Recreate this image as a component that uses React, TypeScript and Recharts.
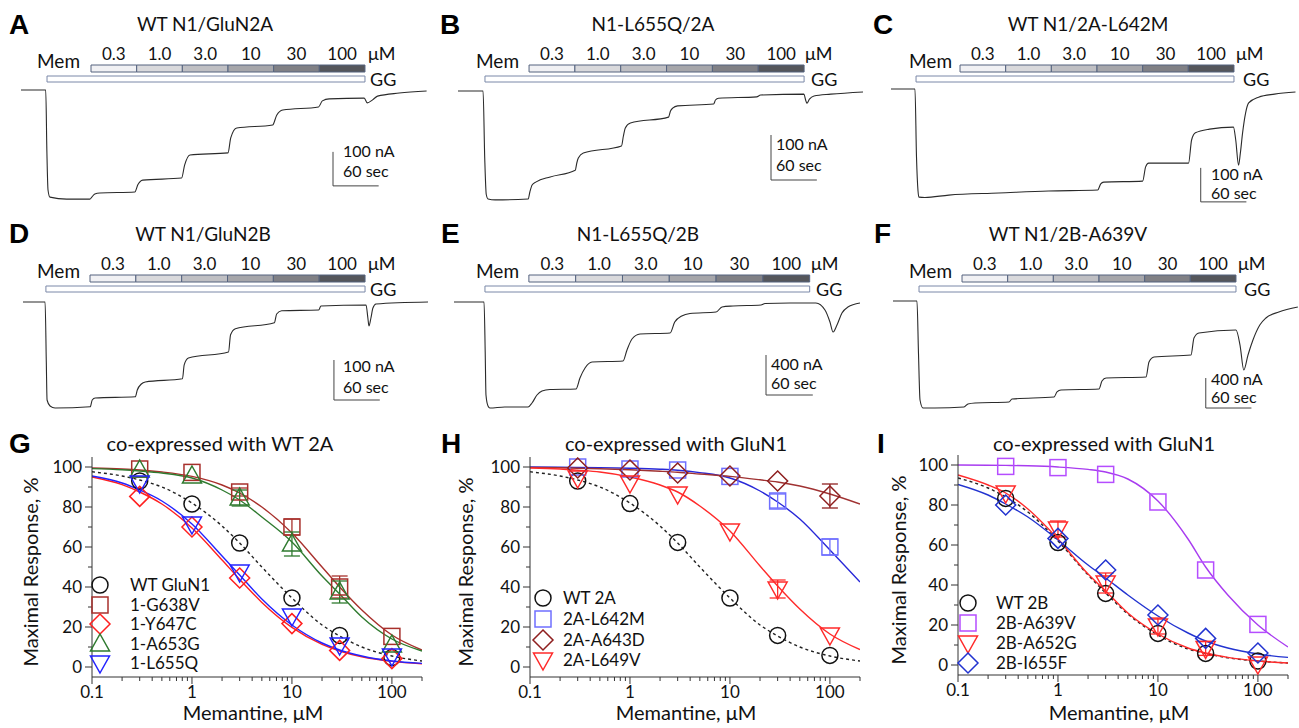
import React from 'react';
import {
  LineChart, Line, XAxis, YAxis, ReferenceArea, ReferenceLine,
  ComposedChart, Scatter, ErrorBar,
} from 'recharts';

const FONT = 'Lato, "Open Sans", "DejaVu Sans", sans-serif';
const BOLD_FONT = '"Liberation Sans", Arial, sans-serif';
const AXIS = '#333';
const TEXT = '#111';

// ---------- Recording protocol ----------
const MEM_CONC_LABELS = ['0.3', '1.0', '3.0', '10', '30', '100'];
const MEM_STEP_SEC = 60;
const CONC_FILLS = ['#f1f1f4', '#d9d9dc', '#bfbfc3', '#a6a6aa', '#808085', '#55565b'];

// ---------- Current traces [time s, current nA] ----------
const TRACE_A: [number, number][] = [
  [0, 0], [32.5, 0], [34, -180], [35.5, -294], [38, -315], [60, -321], [90.5, -321], [93, -315],
  [97, -306], [103.7, -303], [149.6, -300], [153.5, -279], [160, -265], [211, -259], [215, -221],
  [222, -191], [272, -185], [275.6, -141], [283.5, -112], [330.7, -103], [336, -74], [344, -59],
  [391, -50], [396, -32], [405, -26], [451, -24], [455, -38], [462, -29], [468.5, -18], [497, -9], [533, -3],
];
const TRACE_B: [number, number][] = [
  [0, 0], [32.8, 0], [35, -150], [37, -230], [39.4, -240], [48.6, -242], [91.9, -240], [94, -225],
  [97, -209], [102.4, -202], [120.7, -191], [153.5, -176], [155.5, -160], [157.5, -149], [164, -138],
  [214, -122], [216.5, -100], [219, -82], [225.7, -71], [275.6, -58], [278, -45], [281, -38],
  [287.4, -33], [334.6, -29], [337, -20], [341, -16], [391, -13], [396, -9], [452.8, -7], [455, -20],
  [456.7, -27], [460, -18], [466, -11], [488, -7], [531.5, -2],
];
const TRACE_C: [number, number][] = [
  [0, 0], [31.5, 0], [33.5, -200], [35.5, -300], [36.7, -318], [44.6, -319], [76, -312], [141.7, -306],
  [207, -300], [271.7, -297], [275.6, -279], [279.5, -274], [330.7, -271], [334.6, -229], [338.6, -218],
  [391, -218], [395, -150], [400, -129], [418.6, -118], [450, -112], [453, -150], [456.7, -224],
  [459, -190], [462, -129], [466, -70], [470, -41], [483, -24], [504, -15], [531.5, -9],
];
const TRACE_D: [number, number][] = [
  [0, 0], [28.9, 0], [30.5, -150], [31.5, -245], [35.4, -260], [42, -265], [88, -262], [90.6, -245],
  [94.5, -240], [147, -237], [149.6, -220], [154.9, -205], [160, -200], [208.7, -192], [211, -157],
  [216.5, -140], [269, -125], [271.7, -82], [278, -67], [329, -52], [332, -30], [338.6, -22],
  [387, -20], [390, -10], [449, -7.5], [451.4, -40], [452.8, -60], [455.4, -40], [458, -15],
  [462, -5], [531.5, 0],
];
const TRACE_E: [number, number][] = [
  [0, 0], [38.5, 0], [40, -500], [41, -930], [43.6, -1040], [46, -1060], [65, -1050], [95, -1050],
  [100, -1010], [106.4, -930], [112.8, -890], [123, -875], [156.4, -870], [161.5, -760], [168, -660],
  [177, -600], [216.7, -590], [221.8, -480], [228.2, -370], [238.5, -320], [277, -310], [283, -200],
  [292, -140], [302.6, -115], [336, -100], [343.6, -50], [357.7, -40], [393.6, -30], [398.7, -15],
  [430.8, -10], [464, -10], [475.6, -80], [482, -200], [486, -300], [491, -230], [497.4, -110],
  [505, -50], [520.5, -10],
];
const TRACE_F: [number, number][] = [
  [0, 0], [31.5, 0], [33.5, -700], [35.5, -1320], [39.4, -1427], [55, -1427], [93.3, -1413],
  [98.5, -1373], [107.8, -1360], [152.4, -1347], [156.4, -1307], [211.6, -1280], [215.5, -1213],
  [220.8, -1187], [270.7, -1173], [274.6, -1067], [280, -1027], [332.5, -1013], [336.4, -813],
  [343, -747], [391.6, -720], [395.5, -493], [402, -427], [450.7, -387], [456, -587], [461, -920],
  [466.5, -720], [473, -520], [482, -320], [490, -227], [507, -147], [532, -80],
];

// ---------- Dose-response data ----------
const DOSE_X = [0.1, 0.2, 0.3, 0.5, 1, 2, 3, 5, 10, 20, 30, 50, 100, 200];
const CONC_POINTS = [0.3, 1, 3, 10, 30, 100];
const X_TICKS = [0.1, 0.2, 0.3, 0.4, 0.5, 0.6, 0.7, 0.8, 0.9, 1, 2, 3, 4, 5, 6, 7, 8, 9, 10, 20, 30, 40, 50, 60, 70, 80, 90, 100, 200];
const X_MAJOR = [0.1, 1, 10, 100];
const Y_TICKS = [0, 10, 20, 30, 40, 50, 60, 70, 80, 90, 100];
const Y_MAJOR = [0, 20, 40, 60, 80, 100];

const G_WT_FIT = [97.6, 95.5, 93.5, 90, 82, 70.5, 62, 50, 34.5, 21, 15.5, 10, 5.5, 3];
const G_G638V_FIT = [99.5, 99, 98.5, 97.5, 95.3, 91, 87, 80, 67, 50, 40, 28.5, 16, 8.5];
const G_Y647C_FIT = [95, 91.2, 87.5, 81.5, 69.5, 53.5, 43.8, 32.3, 19.8, 11.3, 8, 5.1, 2.8, 1.6];
const G_A653G_FIT = [99.2, 98.6, 98, 97, 94.5, 88.5, 83.5, 75, 62.5, 45.5, 36.5, 25, 14, 8];
const G_L655Q_FIT = [95.5, 92, 88.5, 83, 71.5, 55.5, 46, 34, 21, 12, 8.5, 5.5, 3, 1.8];
const G_WT_PTS = [93, 81.5, 62, 34.5, 15.8, 4.7];
const G_G638V_PTS = [99, 97.3, 87.5, 70, 40, 15.3];
const G_G638V_ERR = [0, 0, 2, 4, 5.5, 0];
const G_Y647C_PTS = [85.3, 70, 44.5, 21.7, 8.3, 4.2];
const G_A653G_PTS = [98.5, 95.5, 84.5, 61.5, 37.5, 11];
const G_A653G_ERR = [0, 0, 4, 6, 5.5, 0];
const G_L655Q_PTS = [92, 71.5, 47.5, 25.5, 11, 5.5];

const H_WT_FIT = [97.6, 95.5, 93.5, 90, 82, 70.5, 62, 50, 34.5, 21, 15.5, 10, 5.5, 3];
const H_L642M_FIT = [100, 99.9, 99.8, 99.7, 99.4, 98.9, 98.4, 97.2, 94.5, 88, 82.5, 74, 58.5, 42.5];
const H_A643D_FIT = [99.8, 99.6, 99.4, 99.1, 98.6, 97.9, 97.4, 96.5, 95.3, 93.6, 92.5, 90.5, 86.5, 81.5];
const H_L649V_FIT = [99.5, 99, 98.4, 97.5, 95, 91, 87.5, 80.5, 68, 50.5, 40.5, 29, 16.5, 8.7];
const H_WT_PTS = [93, 81.7, 62.3, 34.5, 15.8, 5.8];
const H_L642M_PTS = [100, 99, 98.5, 95.3, 83, 60];
const H_L642M_ERR = [0, 0, 0, 0, 3.5, 4];
const H_A643D_PTS = [99.5, 98.5, 97, 95.5, 93, 85.5];
const H_A643D_ERR = [0, 0, 0, 0, 0, 6];
const H_L649V_PTS = [94.5, 92, 86.5, 68, 39, 16];
const H_L649V_ERR = [0, 0, 0, 0, 4.5, 0];

const I_WT_FIT = [93.5, 88.5, 84, 76.5, 62, 45, 36, 25.5, 15, 8, 5.8, 3.6, 2, 1];
const I_A639V_FIT = [100, 99.9, 99.8, 99.6, 99, 97.8, 96.5, 93, 82, 63, 49, 35, 20, 9];
const I_A652G_FIT = [95, 90, 86, 78, 63, 45.5, 37, 26, 15.5, 8.5, 6, 3.8, 2, 1];
const I_I655F_FIT = [90.3, 85, 80.5, 74, 62.5, 50, 43.5, 35, 24.5, 16, 12, 8.5, 5.5, 3.8];
const I_WT_PTS = [83.3, 61.2, 35.8, 15.8, 5.8, 2];
const I_A639V_PTS = [99.3, 98.7, 95.3, 81.5, 47.5, 20.3];
const I_A652G_PTS = [86, 68, 41, 19.5, 8.3, 0.5];
const I_A652G_ERR = [0, 4, 5, 4, 3.5, 0];
const I_I655F_PTS = [80, 63.3, 47.5, 25, 13.3, 6];

const NO_ERR = [0, 0, 0, 0, 0, 0];

// ---------- Panels ----------
type TraceP = {
  letter: string; title: string; trace: [number, number][]; ggOn: number; memOn: number;
  scaleNA: number; scaleCorner: [number, number];
  layout: { x0: number; x1: number; rowTop: number; basePx: number; pxPerSec: number; pxPerNA: number };
  text: { letter: [number, number]; title: [number, number]; mem: [number, number]; um: [number, number]; gg: [number, number]; scale: [number, number, number] };
};

const TRACE_PANELS: TraceP[] = [
  { letter: 'A', title: 'WT N1/GluN2A', trace: TRACE_A, ggOn: 34.2, memOn: 92, scaleNA: 100, scaleCorner: [410, -282],
    layout: { x0: 21, x1: 427, rowTop: 0, basePx: 90, pxPerSec: 0.761, pxPerNA: 0.34 },
    text: { letter: [9, 34], title: [205, 31], mem: [37, 68], um: [368, 60], gg: [370, 86], scale: [343, 157, 177] } },
  { letter: 'B', title: 'N1-L655Q/2A', trace: TRACE_B, ggOn: 35.3, memOn: 93, scaleNA: 100, scaleCorner: [409.7, -197.8],
    layout: { x0: 458, x1: 863, rowTop: 0, basePx: 91, pxPerSec: 0.764, pxPerNA: 0.45 },
    text: { letter: [440, 34], title: [653, 31], mem: [476, 68], um: [805, 60], gg: [811, 86], scale: [776, 150, 171] } },
  { letter: 'C', title: 'WT N1/2A-L642M', trace: TRACE_C, ggOn: 32.9, memOn: 90.7, scaleNA: 100, scaleCorner: [407, -332],
    layout: { x0: 891, x1: 1296, rowTop: 0, basePx: 89, pxPerSec: 0.761, pxPerNA: 0.34 },
    text: { letter: [873, 34], title: [1088, 31], mem: [909, 68], um: [1236, 60], gg: [1243, 86], scale: [1211, 180, 199] } },
  { letter: 'D', title: 'WT N1/GluN2B', trace: TRACE_D, ggOn: 30, memOn: 87.7, scaleNA: 100, scaleCorner: [407, -245],
    layout: { x0: 23, x1: 428, rowTop: 210, basePx: 302, pxPerSec: 0.764, pxPerNA: 0.4 },
    text: { letter: [9, 243], title: [203, 241], mem: [37, 278], um: [368, 270], gg: [370, 296], scale: [343, 372, 393] } },
  { letter: 'E', title: 'N1-L655Q/2B', trace: TRACE_E, ggOn: 39.7, memOn: 96, scaleNA: 400, scaleCorner: [400, -930],
    layout: { x0: 454, x1: 860, rowTop: 210, basePx: 302, pxPerSec: 0.78, pxPerNA: 0.1 },
    text: { letter: [441, 243], title: [638, 241], mem: [476, 278], um: [811, 270], gg: [816, 296], scale: [771, 370, 389] } },
  { letter: 'F', title: 'WT N1/2B-A639V', trace: TRACE_F, ggOn: 34.2, memOn: 90.7, scaleNA: 400, scaleCorner: [411, -1427],
    layout: { x0: 893, x1: 1298, rowTop: 210, basePx: 301, pxPerSec: 0.761, pxPerNA: 0.075 },
    text: { letter: [874, 243], title: [1068, 241], mem: [909, 278], um: [1238, 270], gg: [1244, 296], scale: [1211, 385, 403] } },
];

type Series = { name: string; marker: string; color: string; line: string; dashed?: boolean; fit: number[]; pts: number[]; err: number[] };

type DoseP = {
  letter: string; title: string; series: Series[];
  chart: { left: number; ml: number; mr: number; mt: number; mb: number };
  text: { letter: [number, number]; title: [number, number]; yTitle: [number, number]; xTitle: [number, number] };
  legend: { mx: number; tx: number; rows: number[] };
};

const DOSE_PANELS: DoseP[] = [
  { letter: 'G', title: 'co-expressed with WT 2A',
    series: [
      { name: 'WT GluN1', marker: 'circle', color: '#111', line: '#222', dashed: true, fit: G_WT_FIT, pts: G_WT_PTS, err: NO_ERR },
      { name: '1-G638V', marker: 'square', color: '#a8302c', line: '#a8302c', fit: G_G638V_FIT, pts: G_G638V_PTS, err: G_G638V_ERR },
      { name: '1-Y647C', marker: 'diamond', color: '#ff2020', line: '#ff2020', fit: G_Y647C_FIT, pts: G_Y647C_PTS, err: NO_ERR },
      { name: '1-A653G', marker: 'triUp', color: '#2f7a2f', line: '#2f7a2f', fit: G_A653G_FIT, pts: G_A653G_PTS, err: G_A653G_ERR },
      { name: '1-L655Q', marker: 'triDown', color: '#2323ff', line: '#2323ff', fit: G_L655Q_FIT, pts: G_L655Q_PTS, err: NO_ERR },
    ],
    chart: { left: 0, ml: 32, mr: 11, mt: 37, mb: 21 },
    text: { letter: [9, 453], title: [220, 451], yTitle: [30, 572], xTitle: [253, 720] },
    legend: { mx: 100, tx: 130, rows: [585, 605, 624, 644, 663] } },
  { letter: 'H', title: 'co-expressed with GluN1',
    series: [
      { name: 'WT 2A', marker: 'circle', color: '#111', line: '#222', dashed: true, fit: H_WT_FIT, pts: H_WT_PTS, err: NO_ERR },
      { name: '2A-L642M', marker: 'square', color: '#6f6fff', line: '#2828d8', fit: H_L642M_FIT, pts: H_L642M_PTS, err: H_L642M_ERR },
      { name: '2A-A643D', marker: 'diamond', color: '#8e1f1f', line: '#a03232', fit: H_A643D_FIT, pts: H_A643D_PTS, err: H_A643D_ERR },
      { name: '2A-L649V', marker: 'triDown', color: '#ff2a2a', line: '#ff2a2a', fit: H_L649V_FIT, pts: H_L649V_PTS, err: H_L649V_ERR },
    ],
    chart: { left: 433, ml: 37, mr: 6, mt: 37, mb: 21 },
    text: { letter: [441, 453], title: [676, 451], yTitle: [465, 572], xTitle: [686, 720] },
    legend: { mx: 543, tx: 563, rows: [598, 619, 640, 660] } },
  { letter: 'I', title: 'co-expressed with GluN1',
    series: [
      { name: 'WT 2B', marker: 'circle', color: '#111', line: '#222', dashed: true, fit: I_WT_FIT, pts: I_WT_PTS, err: NO_ERR },
      { name: '2B-A639V', marker: 'square', color: '#b54dff', line: '#a83cf0', fit: I_A639V_FIT, pts: I_A639V_PTS, err: NO_ERR },
      { name: '2B-A652G', marker: 'triDown', color: '#ff2a2a', line: '#ff2a2a', fit: I_A652G_FIT, pts: I_A652G_PTS, err: I_A652G_ERR },
      { name: '2B-I655F', marker: 'diamond', color: '#2233d0', line: '#2233d0', fit: I_I655F_FIT, pts: I_I655F_PTS, err: NO_ERR },
    ],
    chart: { left: 866, ml: 32, mr: 11, mt: 35, mb: 23 },
    text: { letter: [877, 453], title: [1104, 451], yTitle: [898, 570], xTitle: [1119, 720] },
    legend: { mx: 968, tx: 996, rows: [603, 623, 643, 663] } },
];

// ---------- Components ----------
function Marker({ kind, cx, cy, color }: { kind: string; cx: number; cy: number; color: string }) {
  const common = { fill: 'none', stroke: color, strokeWidth: 1.5 };
  if (cx == null || cy == null) return null;
  switch (kind) {
    case 'circle':
      return <circle cx={cx} cy={cy} r={8} {...common} />;
    case 'square':
      return <rect x={cx - 8} y={cy - 8} width={16} height={16} {...common} />;
    case 'diamond':
      return <polygon points={`${cx},${cy - 10} ${cx + 10},${cy} ${cx},${cy + 10} ${cx - 10},${cy}`} {...common} />;
    case 'triUp':
      return <polygon points={`${cx},${cy - 10} ${cx + 9.5},${cy + 7} ${cx - 9.5},${cy + 7}`} {...common} />;
    case 'triDown':
      return <polygon points={`${cx},${cy + 10} ${cx + 9.5},${cy - 7} ${cx - 9.5},${cy - 7}`} {...common} />;
    default:
      return null;
  }
}

const XTick = (props: any) => {
  const { x, y, payload } = props;
  const major = X_MAJOR.includes(payload.value);
  return (
    <g>
      <line x1={x} x2={x} y1={y} y2={y + (major ? 7 : 4)} stroke={AXIS} strokeWidth={1} />
      {major && (
        <text x={x} y={y + 21} textAnchor="middle" fontSize={17} fontFamily={FONT} fill={TEXT}>
          {String(payload.value)}
        </text>
      )}
    </g>
  );
};

const YTick = (props: any) => {
  const { x, y, payload } = props;
  const major = Y_MAJOR.includes(payload.value);
  return (
    <g>
      <line x1={x} x2={x - (major ? 7 : 4)} y1={y} y2={y} stroke={AXIS} strokeWidth={1} />
      {major && (
        <text x={x - 10} y={y + 6} textAnchor="end" fontSize={17} fontFamily={FONT} fill={TEXT}>
          {String(payload.value)}
        </text>
      )}
    </g>
  );
};

function TracePanel({ p }: { p: TraceP }) {
  const L = p.layout;
  const plotTop = L.rowTop + 36;
  const plotBottom = L.rowTop + 212;
  const width = L.x1 - L.x0;
  const height = plotBottom - plotTop;
  const toNA = (py: number) => (L.basePx - py) / L.pxPerNA;
  const data = p.trace.map(([t, i]) => ({ t, i }));
  const concTop = toNA(L.rowTop + 65);
  const concBot = toNA(L.rowTop + 72);
  const ggTop = toNA(L.rowTop + 76);
  const ggBot = toNA(L.rowTop + 82);
  const memOff = p.memOn + MEM_CONC_LABELS.length * MEM_STEP_SEC;
  const [sx, sy] = p.scaleCorner;
  return (
    <div style={{ position: 'absolute', left: L.x0, top: plotTop }}>
      <LineChart width={width} height={height} data={data} margin={{ top: 0, right: 0, bottom: 0, left: 0 }}>
        <XAxis type="number" dataKey="t" domain={[0, width / L.pxPerSec]} hide allowDataOverflow />
        <YAxis type="number" domain={[toNA(plotBottom), toNA(plotTop)]} hide allowDataOverflow />
        {MEM_CONC_LABELS.map((c, k) => (
          <ReferenceArea
            key={c}
            x1={p.memOn + k * MEM_STEP_SEC}
            x2={p.memOn + (k + 1) * MEM_STEP_SEC}
            y1={concBot}
            y2={concTop}
            fill={CONC_FILLS[k]}
            fillOpacity={1}
            stroke="#55637f"
            strokeWidth={1}
            label={{ value: c, position: 'top', offset: 5, fontSize: 17, fontFamily: FONT, fill: TEXT }}
          />
        ))}
        <ReferenceArea x1={p.ggOn} x2={memOff} y1={ggBot} y2={ggTop} fill="#ffffff" fillOpacity={1} stroke="#7a88a8" strokeWidth={1} />
        <ReferenceLine segment={[{ x: sx, y: sy + p.scaleNA }, { x: sx, y: sy }]} stroke="#444" strokeWidth={1} />
        <ReferenceLine segment={[{ x: sx, y: sy }, { x: sx + 60, y: sy }]} stroke="#444" strokeWidth={1} />
        <Line type="monotone" dataKey="i" stroke="#2a2a2a" strokeWidth={1.1} dot={false} isAnimationActive={false} />
      </LineChart>
    </div>
  );
}

function DosePanel({ d }: { d: DoseP }) {
  const c = d.chart;
  return (
    <div style={{ position: 'absolute', left: c.left, top: 420 }}>
      <ComposedChart width={433} height={308} margin={{ top: c.mt, right: c.mr, bottom: c.mb, left: c.ml }}>
        <XAxis
          type="number" dataKey="x" scale="log" domain={[0.1, 200]} ticks={X_TICKS} interval={0}
          tick={<XTick />} tickLine={false} tickSize={0} tickMargin={0}
          axisLine={{ stroke: AXIS, strokeWidth: 1 }} height={30} allowDataOverflow
        />
        <YAxis
          type="number" dataKey="y" domain={[-5, 105]} ticks={Y_TICKS} interval={0}
          tick={<YTick />} tickLine={false} tickSize={0} tickMargin={0}
          axisLine={{ stroke: AXIS, strokeWidth: 1 }} width={60} allowDataOverflow
        />
        {d.series.map((s) => (
          <Line
            key={s.name + '-fit'}
            data={DOSE_X.map((x, i) => ({ x, y: s.fit[i] }))}
            dataKey="y"
            type="monotone"
            stroke={s.line}
            strokeWidth={1.4}
            strokeDasharray={s.dashed ? '3 3' : undefined}
            dot={false}
            isAnimationActive={false}
          />
        ))}
        {d.series.map((s) => (
          <Scatter
            key={s.name}
            data={CONC_POINTS.map((x, i) => ({ x, y: s.pts[i], e: s.err[i] || undefined }))}
            dataKey="y"
            isAnimationActive={false}
            shape={(pp: any) => <Marker kind={s.marker} cx={pp.cx} cy={pp.cy} color={s.color} />}
          >
            <ErrorBar dataKey="e" direction="y" width={8} stroke={s.color} strokeWidth={1.3} />
          </Scatter>
        ))}
      </ComposedChart>
    </div>
  );
}

function Overlay() {
  const t = (x: number, y: number, s: string, size: number, anchor: 'start' | 'middle' | 'end' = 'start') => (
    <text x={x} y={y} fontSize={size} fontFamily={FONT} fill={TEXT} textAnchor={anchor}>{s}</text>
  );
  return (
    <svg width={1299} height={728} style={{ position: 'absolute', left: 0, top: 0, pointerEvents: 'none' }}>
      {TRACE_PANELS.map((p) => (
        <g key={p.letter}>
          <text x={p.text.letter[0]} y={p.text.letter[1]} fontSize={28} fontWeight={700} fontFamily={BOLD_FONT} fill="#000">{p.letter}</text>
          {t(p.text.title[0], p.text.title[1], p.title, 19, 'middle')}
          {t(p.text.mem[0], p.text.mem[1], 'Mem', 19)}
          {t(p.text.um[0], p.text.um[1], 'μM', 18)}
          {t(p.text.gg[0], p.text.gg[1], 'GG', 18)}
          {t(p.text.scale[0], p.text.scale[1], `${p.scaleNA} nA`, 16)}
          {t(p.text.scale[0], p.text.scale[2], '60 sec', 16)}
        </g>
      ))}
      {DOSE_PANELS.map((d) => (
        <g key={d.letter}>
          <text x={d.text.letter[0]} y={d.text.letter[1]} fontSize={28} fontWeight={700} fontFamily={BOLD_FONT} fill="#000">{d.letter}</text>
          {t(d.text.title[0], d.text.title[1], d.title, 20, 'middle')}
          {t(d.text.xTitle[0], d.text.xTitle[1], 'Memantine, μM', 20, 'middle')}
          <text
            x={d.text.yTitle[0]} y={d.text.yTitle[1]} fontSize={20} fontFamily={FONT} fill={TEXT}
            textAnchor="middle" dominantBaseline="central"
            transform={`rotate(-90 ${d.text.yTitle[0]} ${d.text.yTitle[1]})`}
          >
            Maximal Response, %
          </text>
          {d.series.map((s, k) => (
            <g key={s.name}>
              <Marker kind={s.marker} cx={d.legend.mx} cy={d.legend.rows[k]} color={s.color} />
              {t(d.legend.tx, d.legend.rows[k] + 6, s.name, 17)}
            </g>
          ))}
        </g>
      ))}
    </svg>
  );
}

export default function App() {
  return (
    <div style={{ position: 'absolute', left: 0, top: 0, width: 1299, height: 728, background: '#fff', overflow: 'hidden' }}>
      {TRACE_PANELS.map((p) => <TracePanel key={p.letter} p={p} />)}
      {DOSE_PANELS.map((d) => <DosePanel key={d.letter} d={d} />)}
      <Overlay />
    </div>
  );
}
